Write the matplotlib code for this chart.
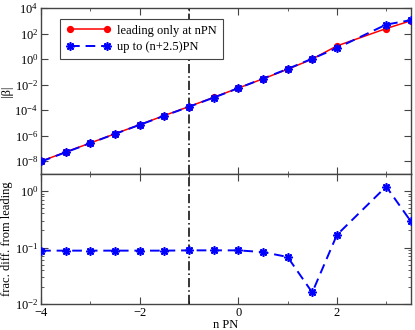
import matplotlib
matplotlib.use("Agg")
import numpy as np
import matplotlib.pyplot as plt
from matplotlib.ticker import FixedLocator, MultipleLocator, NullFormatter, NullLocator, LogLocator

plt.rcParams['font.family'] = ['Liberation Serif', 'DejaVu Serif']
plt.rcParams['mathtext.fontset'] = 'custom'
plt.rcParams['mathtext.rm'] = 'Liberation Serif'
plt.rcParams['mathtext.it'] = 'Liberation Serif:italic'

# PN orders (no point at 2.5)
n_pn = [-4, -3.5, -3, -2.5, -2, -1.5, -1, -0.5, 0, 0.5, 1, 1.5, 2, 3, 3.5]
# log10 |beta|, leading only at nPN
log_beta_lead = [-8.0, -7.28, -6.57, -5.85, -5.14, -4.42, -3.72, -3.0, -2.27,
                 -1.55, -0.8, 0.0, 1.03, 2.39, 3.0]
# log10 |beta|, up to (n+2.5)PN
log_beta_full = [-8.02, -7.3, -6.58, -5.86, -5.15, -4.44, -3.74, -3.02, -2.28,
                 -1.53, -0.77, 0.03, 0.86, 2.7, 3.05]
# fractional difference from leading
frac_diff = [0.088, 0.088, 0.088, 0.088, 0.088, 0.088, 0.089, 0.089, 0.089,
             0.083, 0.068, 0.016, 0.167, 1.2, 0.29]
beta_ticks = [1e-8, 1e-6, 1e-4, 1e-2, 1e0, 1e2, 1e4]

beta_lead = 10.0 ** np.array(log_beta_lead)
beta_full = 10.0 ** np.array(log_beta_full)

fig = plt.figure(figsize=(4.15, 3.3), dpi=100)
ax1 = fig.add_axes([0.099, 0.4727, 0.891, 0.5031])
ax2 = fig.add_axes([0.099, 0.0788, 0.891, 0.3939], sharex=ax1)

FRAME = '#444444'
star = (8, 2, 0)

ax1.plot(n_pn, beta_lead, color='red', lw=1.1, marker='o', ms=4.2,
         mec='red', label='leading only at nPN', zorder=3)
ax1.plot(n_pn, beta_full, color='blue', lw=1.4, ls=(0, (5, 3)), marker=star,
         ms=6, mew=1.2, label='up to (n+2.5)PN', zorder=4)
ax2.plot(n_pn, frac_diff, color='blue', lw=1.4, ls=(0, (5, 3)), marker=star,
         ms=6, mew=1.2, zorder=4)

for ax in (ax1, ax2):
    ax.axvline(-1, color='black', lw=1.1, ls=(0, (6, 2, 1, 2)), zorder=2)
    ax.set_yscale('log')
    ax.set_xlim(-4, 3.5)
    for s in ax.spines.values():
        s.set_color(FRAME)
        s.set_linewidth(1.0)
    ax.tick_params(which='both', direction='in', top=True, right=True,
                   color=FRAME, labelsize=9, pad=2)
    ax.tick_params(which='major', length=5)
    ax.tick_params(which='minor', length=2.5)

ax1.set_ylim(1e-9, 1e4)
ax1.yaxis.set_major_locator(FixedLocator(beta_ticks))
ax1.yaxis.set_minor_locator(NullLocator())
ax1.xaxis.set_major_locator(MultipleLocator(1))
ax1.xaxis.set_minor_locator(NullLocator())
ax1.tick_params(labelbottom=False)
ax1.set_ylabel('|β|', fontsize=9, labelpad=1)

ax2.set_ylim(1e-2, 2)
ax2.yaxis.set_major_locator(LogLocator(base=10.0, numticks=10))
ax2.yaxis.set_minor_locator(LogLocator(base=10.0, subs=np.arange(2, 10), numticks=10))
ax2.yaxis.set_minor_formatter(NullFormatter())
ax2.xaxis.set_major_locator(MultipleLocator(2))
ax2.xaxis.set_minor_locator(MultipleLocator(1))
ax2.set_ylabel('frac. diff. from leading', fontsize=9, labelpad=1)
ax2.set_xlabel('n PN', fontsize=9, labelpad=0)

leg = ax1.legend(loc='upper left', bbox_to_anchor=(0.035, 0.97), fontsize=9,
                 numpoints=2, handlelength=3.6, fancybox=False, framealpha=1,
                 edgecolor=FRAME, borderpad=0.45, labelspacing=0.35,
                 handletextpad=0.5)
leg.get_frame().set_linewidth(0.8)

fig.savefig('out.png', dpi=100)
